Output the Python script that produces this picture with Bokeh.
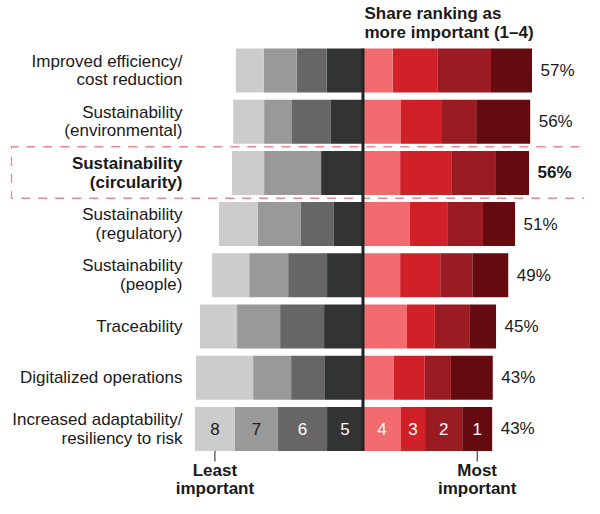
import numpy as np
from bokeh.plotting import figure
from bokeh.models import Range1d, ColumnDataSource
from bokeh.core.properties import value
from bokeh.embed import file_html
from bokeh.resources import INLINE

# ---------------- data ----------------
categories = [
    "Improved efficiency/\ncost reduction",
    "Sustainability\n(environmental)",
    "Sustainability\n(circularity)",
    "Sustainability\n(regulatory)",
    "Sustainability\n(people)",
    "Traceability",
    "Digitalized operations",
    "Increased adaptability/\nresiliency to risk",
]
highlight = "Sustainability\n(circularity)"
share_labels = ["57%", "56%", "56%", "51%", "49%", "45%", "43%", "43%"]

# share of respondents (%) giving each rank, 1 = most important, 8 = least
rank1 = [13.8, 18.2, 11.4, 10.8, 12.1, 8.8, 14.1, 10.1]
rank2 = [17.9, 11.8, 14.8, 11.8, 10.8, 11.8, 8.8, 12.5]
rank3 = [15.2, 13.5, 17.2, 12.8, 13.5, 9.4, 10.4, 8.1]
rank4 = [10.0, 12.8, 12.5, 15.8, 12.5, 14.8, 10.4, 12.8]
rank5 = [12.2, 10.8, 14.1, 9.8, 12.1, 13.1, 12.8, 12.1]
rank6 = [10.1, 13.1, 0.0, 11.1, 13.1, 14.8, 11.4, 16.5]
rank7 = [11.1, 9.4, 19.2, 14.5, 13.1, 14.5, 12.8, 14.5]
rank8 = [9.4, 10.4, 10.8, 13.1, 12.5, 12.5, 19.2, 13.5]

rank_names = ["1", "2", "3", "4", "5", "6", "7", "8"]
rank_colors = ["#650a0f", "#9a1b21", "#d02128", "#f26b6e",
               "#323433", "#666666", "#999999", "#cccccc"]
rank_text_colors = ["white", "white", "white", "white",
                    "white", "white", "#1a1a1a", "#1a1a1a"]

FONT = value("Liberation Sans")
TXT = "#1a1a1a"
LH = 0.98

ranks = [rank1, rank2, rank3, rank4, rank5, rank6, rank7, rank8]
n = len(categories)
rows = np.arange(n)
bar_h = 0.859

p = figure(width=584, height=498, output_backend="svg", toolbar_location=None,
           x_range=Range1d(-122.05, 74.58), y_range=Range1d(8.3594, -1.3672),
           x_axis_location=None, y_axis_location=None, min_border=0,
           outline_line_color=None)
p.grid.visible = False
p.background_fill_color = "white"
p.border_fill_color = "white"

# highlight dashed frame
top_y, bot_y = 1.489, 2.495
x_left = -118.35
p.line(x=[90, x_left, x_left, 90], y=[top_y, top_y, bot_y, bot_y],
       line_color="#e8737b", line_width=1.3, line_dash="9 8", line_alpha=0.85)

# stacked bars
seg_left = {}
seg_right = {}
cum = np.zeros(n)
for r in [3, 2, 1, 0]:  # ranks 4,3,2,1 to the right
    v = np.array(ranks[r])
    seg_left[r] = cum.copy()
    seg_right[r] = cum + v
    cum = cum + v
right_total = cum.copy()
cum = np.zeros(n)
for r in [4, 5, 6, 7]:  # ranks 5..8 to the left
    v = np.array(ranks[r])
    seg_right[r] = -cum
    seg_left[r] = -(cum + v)
    cum = cum + v

for r in range(8):
    src = ColumnDataSource(dict(y=rows, left=seg_left[r], right=seg_right[r]))
    p.hbar(y="y", left="left", right="right", height=bar_h, source=src,
           fill_color=rank_colors[r], line_color=None)

# centre line
p.segment(x0=[0], y0=[-bar_h / 2], x1=[0], y1=[n - 1 + bar_h / 2],
          line_color="#222222", line_width=3)

# category labels
styles = ["bold" if c == highlight else "normal" for c in categories]
lab_src = ColumnDataSource(dict(x=[-60.8] * n, y=rows, text=categories, style=styles,
                                pct=share_labels, px=right_total))
p.text(x="x", y="y", text="text", source=lab_src, text_align="right",
       text_baseline="middle", text_font=FONT, text_font_size="17px",
       text_font_style="style", text_color=TXT, text_line_height=LH)
p.text(x="px", y="y", text="pct", source=lab_src, x_offset=8.5, text_align="left",
       text_baseline="middle", text_font=FONT, text_font_size="17px",
       text_font_style="style", text_color=TXT)

# rank numbers inside last bar
last = n - 1
num_x = [(seg_left[r][last] + seg_right[r][last]) / 2 for r in range(8)]
num_src = ColumnDataSource(dict(x=num_x, y=[last] * 8, text=rank_names,
                                color=rank_text_colors))
p.text(x="x", y="y", text="text", text_color="color", source=num_src,
       text_align="center", text_baseline="middle", text_font=FONT,
       text_font_size="17px")

# leader lines + end labels
lead_y0 = last + bar_h / 2
lead_y1 = 7.637
x8 = num_x[7]
x1 = num_x[0]
p.segment(x0=[x8, x1], y0=[lead_y0, lead_y0], x1=[x8, x1], y1=[lead_y1, lead_y1],
          line_color="#222222", line_width=1)
p.text(x=[x8, x1], y=[7.988, 7.988], text=["Least\nimportant", "Most\nimportant"],
       text_align="center", text_baseline="middle", text_font=FONT,
       text_font_size="17px", text_font_style="bold", text_color=TXT,
       text_line_height=LH)

# header
p.text(x=[0.5], y=[-0.9277], text=["Share ranking as\nmore important (1\u20134)"],
       text_align="left", text_baseline="middle", text_font=FONT,
       text_font_size="17px", text_font_style="bold", text_color=TXT,
       text_line_height=LH)

open("out.html", "w").write(file_html(p, INLINE))
